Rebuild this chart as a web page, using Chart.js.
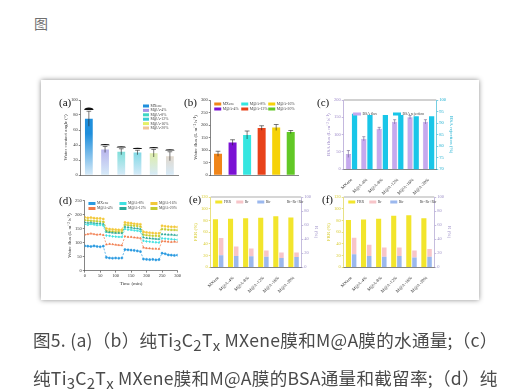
<!DOCTYPE html>
<html lang="zh">
<head>
  <meta charset="UTF-8">
  <title>图5</title>
  <script src="https://cdn.jsdelivr.net/npm/chart.js"></script>
  <style>
    body {
      margin: 0;
      width: 520px;
      height: 390px;
      background: #fff;
      overflow: hidden;
      position: relative;
      font-family: "Noto Sans CJK SC", sans-serif;
    }
    .icon {
      position: absolute;
      left: 34px;
      top: 13px;
      font-size: 14px;
      color: #6f6f6f;
    }
    .card {
      position: absolute;
      left: 41px;
      top: 80px;
      width: 438px;
      height: 220px;
      background: #fff;
      box-shadow: 0 0 5px rgba(0,0,0,0.45);
      filter: blur(0.45px);
    }
    .panel {
      position: absolute;
    }
    .tag {
      position: absolute;
      font-family: "Liberation Serif", serif;
      font-size: 11px;
      color: #111;
    }
    .cap {
      position: absolute;
      left: 33px;
      font-size: 17.6px;
      letter-spacing: 0.25px;
      line-height: 24px;
      color: #4a4a4a;
      white-space: nowrap;
      filter: blur(0.3px);
    }
    .cap sub {
      font-size: 0.85em;
      vertical-align: -0.25em;
      line-height: 0;
    }
  </style>
</head>
<body>
  <div class="icon">图</div>

  <div class="card" id="card"></div>

  <div class="cap" style="top:328px">图5. (a)（b）纯Ti<sub>3</sub>C<sub>2</sub>T<sub>x</sub> MXene膜和M@A膜的水通量;（c）</div>
  <div class="cap" style="top:366px">纯Ti<sub>3</sub>C<sub>2</sub>T<sub>x</sub> MXene膜和M@A膜的BSA通量和截留率;（d）纯</div>

  <script>
    // ---- data ----
    const samples = ["MXene", "M@A-4%", "M@A-8%", "M@A-12%", "M@A-16%", "M@A-20%"];

    // (a) water contact angle
    const angleTicks = [0, 20, 40, 60, 80, 100];
    const contactAngle = [75, 34, 31, 30, 29, 25];
    const contactAngleErr = [10, 4, 4, 3, 5, 6];

    // (b) pure water flux
    const fluxTicks = [0, 50, 100, 150, 200, 250, 300];
    const waterFlux = [85, 130, 160, 188, 190, 172];
    const waterFluxErr = [10, 11, 16, 9, 12, 6];

    // (c) BSA flux and rejection
    const bsaFluxTicks = [0, 50, 100, 150, 200];
    const rejectionTicks = [70, 75, 80, 85, 90, 95, 100];
    const bsaFlux = [44, 88, 117, 137, 150, 137];
    const bsaFluxErr = [10, 6, 4, 6, 5, 6];
    const bsaRejection = [94, 93.5, 93.5, 93.5, 93, 93];

    // (d) cyclic filtration
    const timeTicks = [0, 50, 100, 150, 200, 250, 300];
    const cycleFluxTicks = [0, 50, 100, 150, 200, 250];
    const timeMin = [0, 10, 20, 30, 40, 50, 60, 70, 80, 90, 100, 110, 120, 130, 140, 150,
                     160, 170, 180, 190, 200, 210, 220, 230, 240, 250, 260, 270, 280, 290, 300];
    const fluxMXene = [88, 87, 86, 88, 86, 85, 87, 47, 45, 44, 45, 44, 45, 75, 74, 73,
                       72, 70, 68, 41, 40, 39, 40, 38, 39, 62, 60, 56, 55, 54, 55];
    const flux4 = [128, 130, 132, 130, 128, 129, 127, 93, 95, 94, 92, 91, 90, 122, 120, 120,
                   118, 117, 116, 82, 80, 79, 78, 78, 77, 105, 104, 103, 102, 103, 102];
    const flux8 = [165, 163, 166, 164, 162, 163, 160, 125, 124, 122, 121, 120, 120, 148, 146, 145,
                   143, 142, 140, 106, 104, 103, 102, 101, 100, 115, 114, 113, 112, 111, 110];
    const flux12 = [172, 170, 171, 169, 168, 168, 166, 138, 136, 135, 134, 134, 133, 156, 154, 153,
                    151, 150, 148, 118, 116, 115, 114, 113, 112, 130, 129, 128, 128, 127, 126];
    const flux16 = [190, 188, 189, 187, 186, 186, 184, 150, 148, 147, 146, 145, 145, 172, 170, 169,
                    167, 166, 165, 138, 136, 135, 134, 133, 133, 160, 158, 157, 156, 156, 155];
    const flux20 = [180, 179, 178, 177, 176, 175, 174, 142, 140, 139, 138, 138, 137, 164, 162, 161,
                    160, 159, 157, 128, 126, 125, 124, 124, 123, 148, 147, 146, 145, 145, 144];

    // (e) and (f) fouling resistance
    const frrTicks = [0, 20, 40, 60, 80, 100, 120];
    const rTicks = [0, 20, 40, 60, 80, 100];
    const frrE = [82, 83, 83.5, 84.5, 87, 85];
    const rirE = [17, 16, 15.5, 15, 13, 14.5];
    const rrE = [24.5, 13.5, 11, 9, 8, 6.5];
    const frrF = [80.5, 81.5, 83, 88, 89, 83.5];
    const rirF = [18.5, 16, 15, 16, 14, 15];
    const rrF = [23.5, 16, 13, 12, 10, 11];

    // ---- layout helpers ----
    const card = document.getElementById("card");
    const CX = 41, CY = 80;

    function panel(left, top, w, h) {
      const d = document.createElement("div");
      d.className = "panel";
      d.style.left = (left - CX) + "px";
      d.style.top = (top - CY) + "px";
      d.style.width = w + "px";
      d.style.height = h + "px";
      const c = document.createElement("canvas");
      d.appendChild(c);
      card.appendChild(d);
      return c;
    }
    function tag(text, left, top) {
      const t = document.createElement("div");
      t.className = "tag";
      t.textContent = text;
      t.style.left = (left - CX) + "px";
      t.style.top = (top - CY) + "px";
      card.appendChild(t);
    }

    Chart.defaults.font.family = "'Liberation Serif', serif";
    Chart.defaults.font.size = 4.5;
    Chart.defaults.color = "#333";
    Chart.defaults.animation = false;
    Chart.defaults.responsive = true;
    Chart.defaults.maintainAspectRatio = false;
    Chart.defaults.plugins.legend.display = false;
    Chart.defaults.plugins.tooltip.enabled = false;

    // error bars (+ contact-angle droplets) drawn through the value scale
    const errorBars = {
      id: "errorBars",
      afterDatasetsDraw(chart) {
        const ctx = chart.ctx;
        chart.data.datasets.forEach((ds, di) => {
          if (!ds.errors) return;
          const meta = chart.getDatasetMeta(di);
          const scale = chart.scales[meta.yAxisID];
          meta.data.forEach((el, i) => {
            const v = ds.data[i], e = ds.errors[i];
            const yTop = scale.getPixelForValue(v + e);
            const yBot = scale.getPixelForValue(v - e);
            const w = el.width * 0.3;
            ctx.save();
            ctx.strokeStyle = ds.errorColor || "#222";
            ctx.lineWidth = 0.6;
            ctx.beginPath();
            ctx.moveTo(el.x, yTop); ctx.lineTo(el.x, yBot);
            ctx.moveTo(el.x - w, yTop); ctx.lineTo(el.x + w, yTop);
            ctx.stroke();
            if (ds.droplets) {
              ctx.fillStyle = "#111";
              ctx.beginPath();
              ctx.ellipse(el.x, yTop - 1.2, el.width * 0.6, i === 0 ? 2.6 : 1.4, 0, Math.PI, 2 * Math.PI);
              ctx.fill();
            }
            ctx.restore();
          });
        });
      }
    };

    // small legend drawn inside the plot area
    const insideLegend = {
      id: "insideLegend",
      afterDraw(chart, args, o) {
        if (!o.items) return;
        const { ctx, chartArea: ca } = chart;
        ctx.save();
        ctx.font = (o.size || 4) + "px 'Liberation Serif'";
        ctx.textBaseline = "middle";
        o.items.forEach((it, i) => {
          const col = i % o.cols, row = Math.floor(i / o.cols);
          const x = ca.left + o.x * ca.width + col * o.colW;
          const y = ca.top + o.y + row * o.rowH;
          ctx.fillStyle = it.color;
          ctx.fillRect(x, y - 1.5, o.box || 6, 3);
          ctx.fillStyle = o.textColor || "#444";
          ctx.fillText(it.text, x + (o.box || 6) + 1.5, y);
        });
        ctx.restore();
      }
    };

    // top border of the plot box
    const frame = {
      id: "frame",
      afterDraw(chart, args, o) {
        if (!o.color) return;
        const { ctx, chartArea: ca } = chart;
        ctx.save();
        ctx.strokeStyle = o.color;
        ctx.lineWidth = 0.6;
        ctx.beginPath();
        ctx.moveTo(ca.left, ca.top); ctx.lineTo(ca.right, ca.top);
        ctx.stroke();
        ctx.restore();
      }
    };
    Chart.register(errorBars, insideLegend, frame);

    function valueAxis(ticks, color, title, extra) {
      return Object.assign({
        min: ticks[0],
        max: ticks[ticks.length - 1],
        border: { display: true, color: color, width: 0.6 },
        grid: { display: true, drawOnChartArea: false, tickLength: 2, color: color, lineWidth: 0.6 },
        ticks: { stepSize: ticks[1] - ticks[0], color: color, padding: 1, font: { size: 4.5 } },
        title: { display: true, text: title, color: color, padding: 1, font: { size: 5 } }
      }, extra || {});
    }
    function catAxis(showLabels, extra) {
      return Object.assign({
        type: "category",
        border: { display: true, color: "#333", width: 0.6 },
        grid: { display: false },
        ticks: showLabels
          ? { minRotation: 45, maxRotation: 45, padding: 0, color: "#333", font: { size: 4.5 } }
          : { display: false }
      }, extra || {});
    }
    // vertical fade used for the contact-angle bars
    function fadeFill(colors) {
      return (ctx) => {
        const top = colors[ctx.dataIndex];
        const ca = ctx.chart.chartArea;
        if (!ca) return top;
        const g = ctx.chart.ctx.createLinearGradient(0, ca.top, 0, ca.bottom);
        g.addColorStop(0, top);
        g.addColorStop(0.45, top);
        g.addColorStop(1, "#d6eaf8");
        return g;
      };
    }

    // ---- (a) contact angle ----
    const angleColors = ["#1f8fdc", "#a694e6", "#3fd6c4", "#3ccbd6", "#e4f066", "#f0c49a"];
    tag("(a)", 59, 96);
    new Chart(panel(62, 96, 119, 91), {
      type: "bar",
      data: {
        labels: samples,
        datasets: [{
          data: contactAngle,
          errors: contactAngleErr,
          droplets: true,
          backgroundColor: fadeFill(angleColors),
          barPercentage: 0.48,
          categoryPercentage: 1
        }]
      },
      options: {
        layout: { padding: { top: 4, right: 3, bottom: 4 } },
        scales: {
          x: catAxis(false),
          y: valueAxis(angleTicks, "#333", "Water contact angle (°)")
        },
        plugins: {
          insideLegend: {
            items: samples.map((s, i) => ({ text: s, color: angleColors[i] })),
            cols: 1, x: 0.64, y: 6, colW: 0, rowH: 4.4, box: 6, size: 3.8
          }
        }
      }
    });

    // ---- (b) water flux ----
    const fluxColors = ["#f08519", "#7b12d4", "#35e6e0", "#e8421a", "#f6d208", "#62c826"];
    const legendOrder = [0, 2, 4, 1, 3, 5];
    tag("(b)", 184, 96);
    new Chart(panel(192, 96, 109, 91), {
      type: "bar",
      data: {
        labels: samples,
        datasets: [{
          data: waterFlux,
          errors: waterFluxErr,
          backgroundColor: fluxColors,
          barPercentage: 0.55,
          categoryPercentage: 1
        }]
      },
      options: {
        layout: { padding: { top: 4, right: 3, bottom: 4 } },
        scales: {
          x: catAxis(false),
          y: valueAxis(fluxTicks, "#333", "Water flux (L m⁻² h⁻¹)")
        },
        plugins: {
          insideLegend: {
            items: legendOrder.map(i => ({ text: samples[i], color: fluxColors[i] })),
            cols: 3, x: 0.04, y: 4, colW: 27, rowH: 5, box: 7, size: 3.8
          }
        }
      }
    });

    // ---- (c) BSA flux / rejection ----
    const purple = "#c6a9ee";
    const cyan = "#19c6e8";
    tag("(c)", 317, 96);
    new Chart(panel(325, 96, 130, 100), {
      type: "bar",
      data: {
        labels: samples,
        datasets: [
          { label: "BSA flux", data: bsaFlux, errors: bsaFluxErr, errorColor: "#6a5a8a",
            backgroundColor: purple, borderColor: "#9a80c8", borderWidth: 0.4, yAxisID: "y",
            barPercentage: 0.85, categoryPercentage: 0.8 },
          { label: "BSA rejection", data: bsaRejection, backgroundColor: cyan, yAxisID: "y2",
            barPercentage: 0.85, categoryPercentage: 0.8 }
        ]
      },
      options: {
        layout: { padding: { top: 4, right: 0, bottom: 0 } },
        scales: {
          x: catAxis(true),
          y: valueAxis(bsaFluxTicks, "#9c88c8", "BSA flux (L m⁻² h⁻¹)"),
          y2: valueAxis(rejectionTicks, "#1aaed0", "BSA rejection (%)", { position: "right" })
        },
        plugins: {
          frame: { color: "#666" },
          insideLegend: {
            items: [{ text: "BSA flux", color: purple }, { text: "BSA rejection", color: cyan }],
            cols: 2, x: 0.1, y: 14, colW: 40, rowH: 5, box: 8, size: 3.8
          }
        }
      }
    });

    // ---- (d) cyclic water flux ----
    const lineSeries = [
      { name: samples[0], data: fluxMXene, color: "#2a9ae0", point: "circle" },
      { name: samples[1], data: flux4, color: "#f07a4a", point: "triangle" },
      { name: samples[2], data: flux8, color: "#3ee0e0", point: "rectRot" },
      { name: samples[3], data: flux12, color: "#2aa898", point: "triangle" },
      { name: samples[4], data: flux16, color: "#f2c83a", point: "circle" },
      { name: samples[5], data: flux20, color: "#c4cc30", point: "rect" }
    ];
    tag("(d)", 59, 194);
    new Chart(panel(66, 196, 116, 92), {
      type: "line",
      data: {
        labels: timeMin,
        datasets: lineSeries.map(s => ({
          label: s.name,
          data: s.data,
          borderColor: s.color,
          backgroundColor: s.color,
          borderWidth: 0.7,
          borderDash: [2, 1.5],
          pointStyle: s.point,
          pointRadius: 1.1,
          pointBorderWidth: 0.5
        }))
      },
      options: {
        layout: { padding: { top: 4, right: 3, bottom: 0 } },
        scales: {
          x: valueAxis(timeTicks, "#333", "Time (min)", { type: "linear" }),
          y: valueAxis(cycleFluxTicks, "#333", "Water flux (L m⁻² h⁻¹)")
        },
        plugins: {
          insideLegend: {
            items: legendOrder.map(i => ({ text: lineSeries[i].name, color: lineSeries[i].color })),
            cols: 3, x: 0.04, y: 3, colW: 31, rowH: 5, box: 7, size: 3.8
          }
        }
      }
    });

    // ---- (e), (f) FRR and resistances ----
    const yellow = "#f2e52c";
    const pink = "#f7c5c9";
    const blue = "#9bb8ee";
    function resistanceChart(canvas, frr, rir, rr) {
      return new Chart(canvas, {
        type: "bar",
        data: {
          labels: samples,
          datasets: [
            { label: "FRR", data: frr, backgroundColor: yellow, yAxisID: "y", stack: "frr",
              barPercentage: 0.9, categoryPercentage: 0.75 },
            { label: "Rir", data: rir, backgroundColor: blue, yAxisID: "y2", stack: "r",
              barPercentage: 0.8, categoryPercentage: 0.75 },
            { label: "Rr", data: rr, backgroundColor: pink, yAxisID: "y2", stack: "r",
              barPercentage: 0.8, categoryPercentage: 0.75 }
          ]
        },
        options: {
          layout: { padding: { top: 4, right: 0, bottom: 0 } },
          scales: {
            x: catAxis(true, { stacked: true }),
            y: valueAxis(frrTicks, "#d8cc30", "FRR (%)", { stacked: true }),
            y2: valueAxis(rTicks, "#9d90c8", "R (%)", { stacked: true, position: "right" })
          },
          plugins: {
            frame: { color: "#777" },
            insideLegend: {
              items: [
                { text: "FRR", color: yellow },
                { text: "Rr", color: pink },
                { text: "Rir", color: blue },
                { text: "Rt=Rr+Rir", color: "rgba(0,0,0,0)" }
              ],
              cols: 4, x: 0.05, y: 5, colW: 21, rowH: 5, box: 7, size: 3.8
            }
          }
        }
      });
    }
    tag("(e)", 189, 193);
    resistanceChart(panel(192, 193, 128, 101), frrE, rirE, rrE);
    tag("(f)", 322, 193);
    resistanceChart(panel(325, 193, 128, 101), frrF, rirF, rrF);
  </script>
</body>
</html>
